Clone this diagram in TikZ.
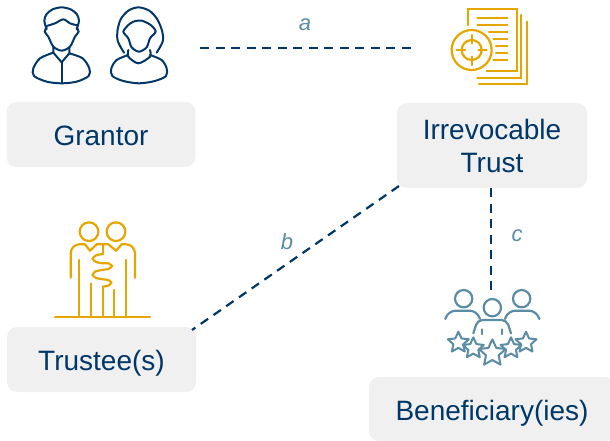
\documentclass[tikz,border=0pt]{standalone}
\usepackage{fontspec}
\setmainfont{Liberation Sans}
\usetikzlibrary{shapes.geometric}
\definecolor{navy}{HTML}{003768}
\definecolor{gold}{HTML}{E5A600}
\definecolor{steel}{HTML}{5B8CA5}
\definecolor{boxgray}{HTML}{F0F0F0}
\tikzset{
  labelbox/.style={fill=boxgray,rounded corners=10pt,text=navy,align=center,
    font=\fontsize{28}{29}\selectfont,inner sep=0pt,text height=22pt,text depth=0pt},
  link/.style={draw=navy,line width=2.2pt,dash pattern=on 9pt off 6.5pt},
  linklabel/.style={text=steel,font=\fontsize{22}{24}\selectfont\itshape},
  navyline/.style={draw=navy,line width=2pt,line join=round,line cap=round},
  goldline/.style={draw=gold,line width=2.2pt,line cap=round},
  steelline/.style={draw=steel,line width=2.2pt,line cap=round},
  icon/.style={x=0.3333pt,y=-0.3333pt},
}
\begin{document}
\begin{tikzpicture}[x=1pt,y=-1pt]
   \useasboundingbox (0,0) rectangle (610,441);
   % boxes
   \node[labelbox,minimum width=189pt,minimum height=65pt] (grantor) at (101,134.5) {Grantor};
   \node[labelbox,minimum width=190pt,minimum height=85pt,text height=54pt] (trust) at (492,145.5) {Irrevocable\\[4pt]Trust};
   \node[labelbox,minimum width=189pt,minimum height=65pt] (trustee) at (101.5,359.5) {Trustee(s)};
   \node[labelbox,minimum width=246pt,minimum height=64pt] (benef) at (492,409) {Beneficiary(ies)};
   % connectors
   \coordinate (grantorend) at (200,48);
   \coordinate (docend) at (412,48);
   \coordinate (trustsw) at (399,186);
   \coordinate (trusteene) at (192,330);
   \coordinate (trustfoot) at (491,188);
   \coordinate (benefhead) at (491,290);
   \draw[link] (grantorend) -- (docend);
   \draw[link] (trustsw) -- (trusteene);
   \draw[link] (trustfoot) -- (benefhead);
   \node[linklabel] (la) at (305,25) {a};
   \node[linklabel] (lb) at (287,242) {b};
   \node[linklabel] (lc) at (517,236) {c};
   % man and woman
   \begin{scope}[icon]
      \draw[navyline] plot[smooth] coordinates {(140,88) (133,62) (140,42) (158,28) (185,22) (212,28) (230,42) (237,62) (230,88)};
      \draw[navyline] plot[smooth] coordinates {(140,78) (165,70) (190,58) (210,70) (232,76)};
      \draw[navyline] plot[smooth] coordinates {(140,82) (134,95) (145,110) (160,140) (185,152) (210,140) (225,110) (236,95) (230,82)};
      \draw[navyline] (160,142) -- (160,158) -- (185,187) -- (208,160) -- (208,142);
      \draw[navyline] (185,187) -- (185,248);
      \draw[navyline] plot[smooth] coordinates {(160,158) (120,175) (100,205) (102,228) (140,245) (185,250) (230,245) (266,228) (268,205) (248,175) (208,160)};
      \draw[navyline] plot[smooth] coordinates {(372,158) (354,125) (352,95) (362,58) (385,32) (415,22) (448,32) (472,58) (487,95) (488,125) (470,158)};
      \draw[navyline] plot[smooth] coordinates {(385,75) (370,95) (385,115) (395,142) (417,155) (440,142) (450,115) (467,95) (452,75) (425,62) (400,65) (385,75)};
      \draw[navyline] plot[smooth] coordinates {(385,150) (385,170) (415,190) (450,170) (450,150)};
      \draw[navyline] plot[smooth] coordinates {(385,165) (350,180) (334,205) (337,228) (370,243) (417,250) (465,243) (498,228) (500,205) (485,180) (450,165)};
   \end{scope}
   % document with target
   \begin{scope}[shift={(390,0)},icon]
      \draw[goldline] (233,75) -- (233,27) -- (380,27) -- (380,213) -- (290,213);
      \draw[goldline] (392,45) -- (392,235) -- (262,235);
      \draw[goldline] (412,65) -- (412,252) -- (267,252);
      \draw[goldline] (262,55) -- (352,55);
      \draw[goldline] (262,75) -- (352,75);
      \draw[goldline] (297,96) -- (352,96);
      \draw[goldline] (310,116) -- (352,116);
      \draw[goldline] (318,137) -- (352,137);
      \draw[goldline] (318,158) -- (352,158);
      \draw[goldline] (310,179) -- (352,179);
      \draw[goldline] (245,150) circle (60);
      \draw[goldline] (245,150) circle (30);
      \draw[goldline] (245,105) -- (245,130);
      \draw[goldline] (245,170) -- (245,195);
      \draw[goldline] (200,150) -- (225,150);
      \draw[goldline] (265,150) -- (290,150);
   \end{scope}
   % trustees
   \begin{scope}[shift={(40,210)},icon]
      \draw[goldline] (147,65) circle (28);
      \draw[goldline] (228,65) circle (28);
      \draw[goldline,rounded corners=9pt] (92,203) -- (92,103) -- (135,103);
      \draw[goldline] (135,103) -- (150,122) -- (170,103) -- (205,103) -- (228,122) -- (245,103);
      \draw[goldline,rounded corners=9pt] (245,103) -- (285,103) -- (285,203);
      \draw[goldline] (117,150) -- (117,322);
      \draw[goldline] (258,150) -- (258,322);
      \draw[goldline] (152,220) -- (152,322);
      \draw[goldline] (223,240) -- (223,322);
      \draw[goldline] (45,322) -- (330,322);
      \draw[goldline] (188,103) -- (188,132);
      \draw[goldline] plot[smooth,tension=0.4] coordinates {(188,132) (168,136) (158,146) (168,156) (190,160) (205,160) (216,168) (205,177) (185,180) (165,185) (158,195) (168,204) (190,208) (205,210) (214,218) (205,227) (188,230)};
      \draw[goldline] (188,230) -- (188,322);
   \end{scope}
   % beneficiaries
   \begin{scope}[shift={(430,270)},icon]
      \draw[steelline] (101,86) circle (26);
      \draw[steelline] (275,86) circle (26);
      \draw[steelline] (187,113) circle (26);
      \draw[steelline,rounded corners=7pt] (46,147) -- (56,122) -- (140,122) -- (150,147);
      \draw[steelline,rounded corners=7pt] (225,147) -- (235,122) -- (318,122) -- (328,147);
      \draw[steelline,rounded corners=5pt] (130,190) -- (143,150) -- (230,150) -- (243,190);
      \draw[steelline] (157,178) -- (157,192);
      \draw[steelline] (217,178) -- (217,192);
      \foreach \sname/\sx/\sy/\ssize in {sa/85/218/22,se/288/218/22,sb/130/235/22,sd/243/235/22,sc/187/250/28}
        \node[star,star points=5,star point ratio=2.1,draw=steel,fill=white,line width=2pt,line join=round,
          inner sep=0pt,minimum size=\ssize pt] (\sname) at (\sx,\sy) {};
   \end{scope}
\end{tikzpicture}
\end{document}
